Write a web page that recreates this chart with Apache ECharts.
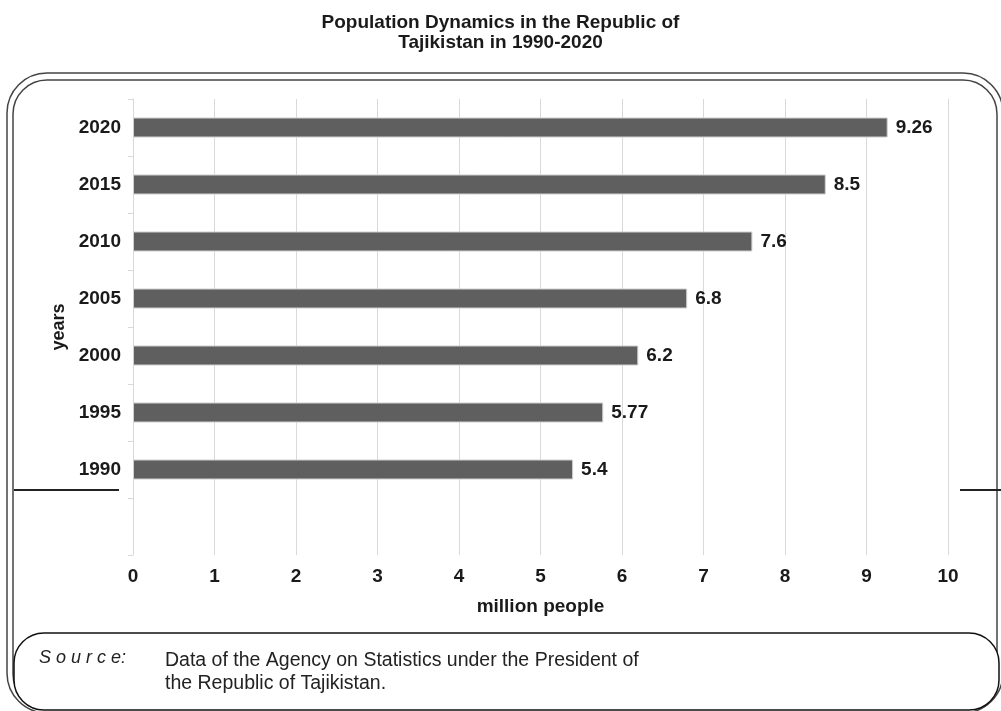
<!DOCTYPE html>
<html>
<head>
<meta charset="utf-8">
<title>Population Dynamics in the Republic of Tajikistan</title>
<script src="https://cdn.jsdelivr.net/npm/echarts@6/dist/echarts.min.js"></script>
<style>
  html, body { margin: 0; padding: 0; background: #ffffff; }
  #chart { width: 1001px; height: 711px; }
</style>
</head>
<body>
<div id="chart"></div>
<script>
// data
const years = ['', '1990', '1995', '2000', '2005', '2010', '2015', '2020'];
const population = [null, 5.4, 5.77, 6.2, 6.8, 7.6, 8.5, 9.26];
const valueTicks = [0, 10, 1]; // min, max, interval

const chart = echarts.init(document.getElementById('chart'));
const font = 'Liberation Sans';

const option = {
  backgroundColor: '#ffffff',
  animation: false,
  title: {
    text: 'Population Dynamics in the Republic of\nTajikistan in 1990-2020',
    left: 'center',
    top: 8,
    textStyle: { fontFamily: font, fontSize: 19, fontWeight: 'bold', color: '#1a1a1a', lineHeight: 20 }
  },
  grid: { left: 133, right: 53, top: 99, bottom: 156, containLabel: false },
  xAxis: {
    type: 'value',
    min: valueTicks[0],
    max: valueTicks[1],
    interval: valueTicks[2],
    name: 'million people',
    nameLocation: 'middle',
    nameGap: 42,
    nameTextStyle: { fontFamily: font, fontSize: 19, fontWeight: 'bold', color: '#1a1a1a' },
    axisLine: { show: false },
    axisTick: { show: false },
    axisLabel: { fontFamily: font, fontSize: 19, fontWeight: 'bold', color: '#1a1a1a', margin: 12 },
    splitLine: { show: true, lineStyle: { color: '#d9d9d9', width: 1 } }
  },
  yAxis: {
    type: 'category',
    data: years,
    name: 'years',
    nameLocation: 'middle',
    nameGap: 60,
    nameRotate: 90,
    nameTextStyle: { fontFamily: font, fontSize: 18, fontWeight: 'bold', color: '#1a1a1a' },
    axisLine: { show: true, lineStyle: { color: '#d9d9d9', width: 1 } },
    axisTick: { show: true, length: 5, lineStyle: { color: '#d9d9d9' } },
    axisLabel: { fontFamily: font, fontSize: 19, fontWeight: 'bold', color: '#1a1a1a', margin: 12 },
    splitLine: { show: false }
  },
  series: [
    {
      type: 'bar',
      data: population,
      barWidth: 20,
      itemStyle: { color: '#5f5f5f', borderColor: '#cfcfcf', borderWidth: 1 },
      label: {
        show: true,
        position: 'right',
        distance: 8,
        fontFamily: font,
        fontSize: 19,
        fontWeight: 'bold',
        color: '#1a1a1a'
      }
    }
  ],
  graphic: [
    // outer frame
    { type: 'rect', shape: { x: 7, y: 73, width: 996, height: 640, r: 40 },
      style: { fill: 'none', stroke: '#444', lineWidth: 1.5 }, silent: true },
    { type: 'rect', shape: { x: 13, y: 80, width: 984, height: 628, r: 34 },
      style: { fill: 'none', stroke: '#444', lineWidth: 1.5 }, silent: true },
    // horizontal rules
    { type: 'line', shape: { x1: 14, y1: 490, x2: 119, y2: 490 },
      style: { stroke: '#222', lineWidth: 2 }, silent: true },
    { type: 'line', shape: { x1: 960, y1: 490, x2: 1001, y2: 490 },
      style: { stroke: '#222', lineWidth: 2 }, silent: true },
    // source box
    { type: 'rect', shape: { x: 14, y: 633, width: 985, height: 77, r: 30 },
      style: { fill: '#ffffff', stroke: '#111', lineWidth: 1.5 }, silent: true },
    { type: 'text', left: 39, top: 649,
      style: { text: 'S o u r c e:', font: 'italic 18px "Liberation Sans"', fill: '#222' }, silent: true },
    { type: 'text', left: 165, top: 649,
      style: { text: 'Data of the Agency on Statistics under the President of\nthe Republic of Tajikistan.',
               font: '19.5px "Liberation Sans"', fill: '#222', lineHeight: 23 }, silent: true }
  ]
};

chart.setOption(option);
window.addEventListener('resize', () => chart.resize());
</script>
</body>
</html>
